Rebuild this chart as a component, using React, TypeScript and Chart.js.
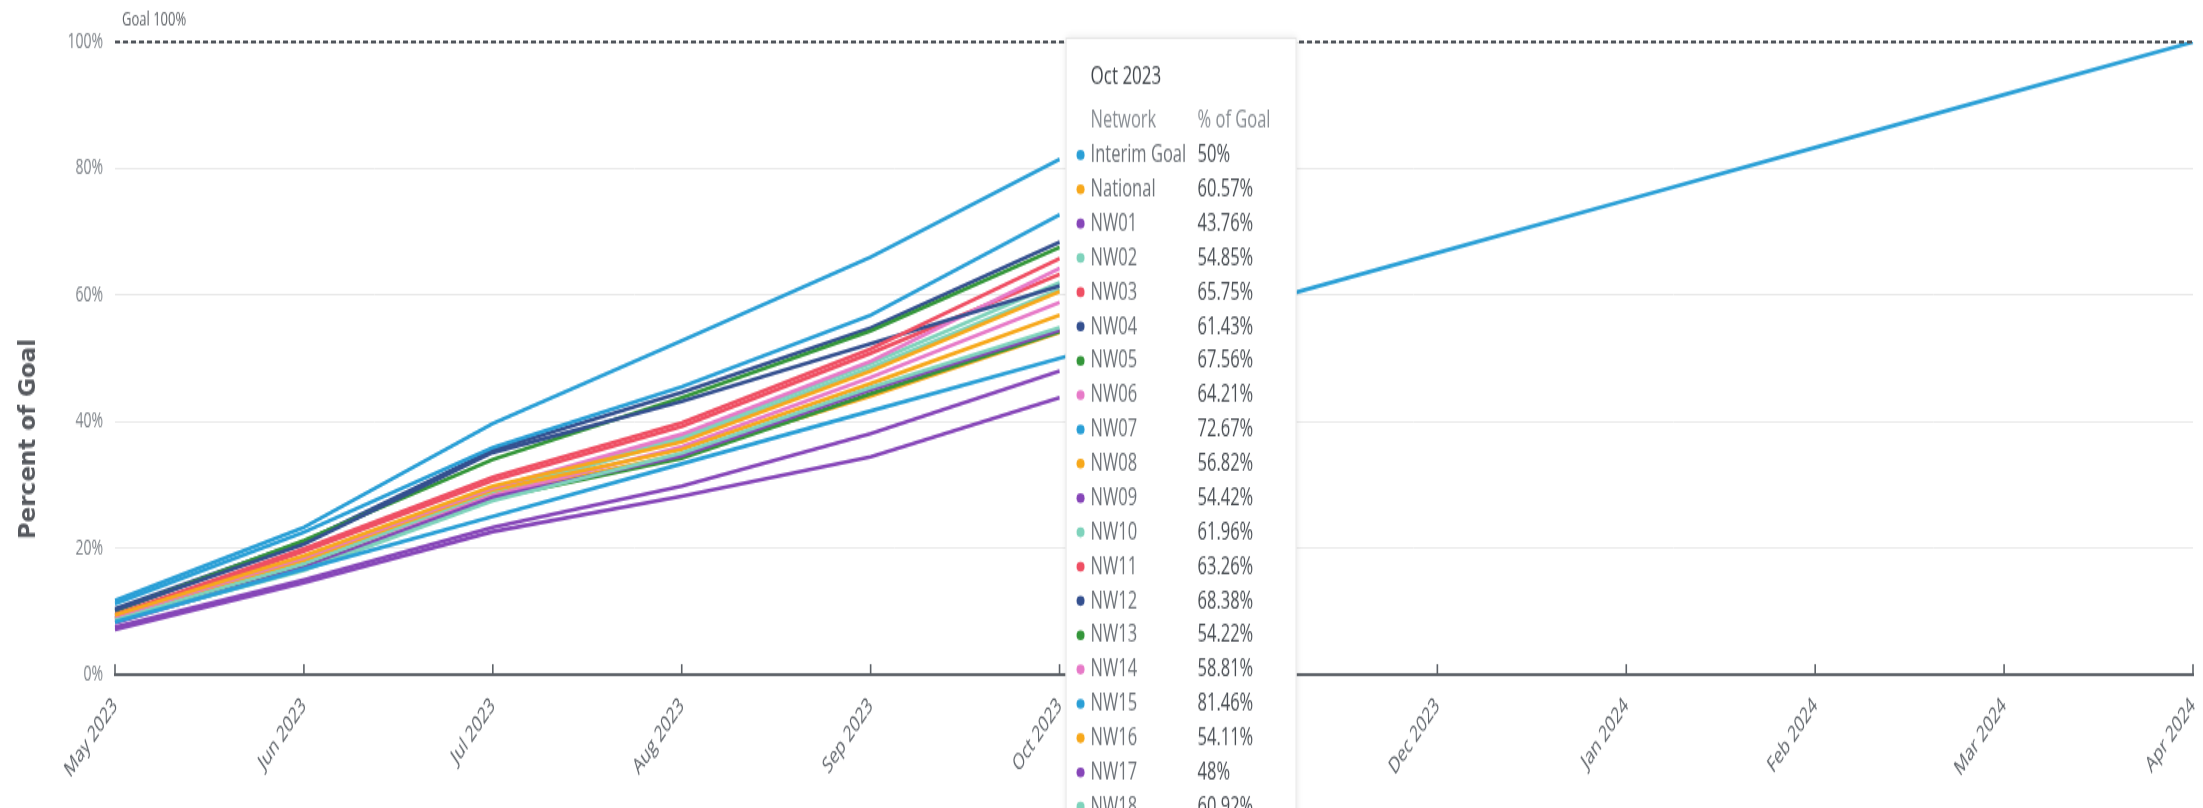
import React, { useEffect, useRef } from 'react';
import { Chart, registerables } from 'chart.js';

Chart.register(...registerables);

// ---------- data ----------
const months = [
  'May 2023', 'Jun 2023', 'Jul 2023', 'Aug 2023', 'Sep 2023', 'Oct 2023',
  'Nov 2023', 'Dec 2023', 'Jan 2024', 'Feb 2024', 'Mar 2024', 'Apr 2024',
];
const yTickValues = [0, 20, 40, 60, 80, 100];
const goalValue = 100;
const goalLabel = 'Goal 100%';
const tooltipIndex = 5; // Oct 2023

const interimGoal = [8.33, 16.67, 25, 33.33, 41.67, 50, 58.33, 66.67, 75, 83.33, 91.67, 100];
const national = [9.4, 18.8, 29.8, 36.8, 48.0, 60.57];
const nw01 = [7.1, 14.5, 22.6, 28.2, 34.4, 43.76];
const nw02 = [8.5, 16.5, 27.5, 35.0, 45.4, 54.85];
const nw03 = [9.5, 19.9, 31.2, 39.8, 51.5, 65.75];
const nw04 = [10.2, 20.6, 35.1, 43.2, 52.3, 61.43];
const nw05 = [10.0, 21.2, 34.0, 43.8, 54.3, 67.56];
const nw06 = [9.2, 18.5, 29.5, 38.0, 49.5, 64.21];
const nw07 = [11.2, 22.5, 35.9, 45.5, 56.8, 72.67];
const nw08 = [9.3, 18.2, 29.2, 35.6, 46.0, 56.82];
const nw09 = [8.2, 16.9, 28.0, 34.6, 45.0, 54.42];
const nw10 = [8.8, 17.5, 29.0, 37.6, 49.2, 61.96];
const nw11 = [9.0, 19.5, 30.7, 39.2, 50.8, 63.26];
const nw12 = [10.4, 21.0, 35.5, 44.6, 54.8, 68.38];
const nw13 = [8.9, 17.0, 27.8, 34.2, 44.4, 54.22];
const nw14 = [8.6, 17.2, 28.3, 36.0, 47.0, 58.81];
const nw15 = [11.7, 23.3, 39.7, 52.8, 66.0, 81.46];
const nw16 = [8.7, 18.0, 28.5, 34.8, 44.0, 54.11];
const nw17 = [7.5, 15.0, 23.3, 29.8, 38.1, 48];
const nw18 = [8.8, 17.8, 28.6, 37.2, 48.5, 60.92];

const seriesNames = [
  'Interim Goal', 'National', 'NW01', 'NW02', 'NW03', 'NW04', 'NW05', 'NW06', 'NW07', 'NW08',
  'NW09', 'NW10', 'NW11', 'NW12', 'NW13', 'NW14', 'NW15', 'NW16', 'NW17', 'NW18',
];
const seriesValues = [
  interimGoal, national, nw01, nw02, nw03, nw04, nw05, nw06, nw07, nw08,
  nw09, nw10, nw11, nw12, nw13, nw14, nw15, nw16, nw17, nw18,
];
const palette = ['#2a9fd6', '#f7a81b', '#8646b8', '#7fd3bc', '#ef4f63', '#34508f', '#34963a', '#e77ac8'];
const seriesColors = seriesNames.map((_, i) => palette[i % palette.length]);

// ---------- layout constants ----------
const CANVAS_W = 2203;
const CANVAS_H = 539;
const DISPLAY_H = 808;
const STRETCH = DISPLAY_H / CANVAS_H;
const FONT = '"Open Sans", "Noto Sans", sans-serif';

const overlayPlugin = {
  id: 'overlay',
  afterDatasetsDraw(chart: any) {
    const ctx: CanvasRenderingContext2D = chart.ctx;
    const { left, right, bottom } = chart.chartArea;
    const xs = chart.scales.x;
    const ys = chart.scales.y;
    ctx.save();
    // upward tick marks on x axis
    ctx.strokeStyle = '#5d6268';
    ctx.lineWidth = 1.6;
    months.forEach((_, i) => {
      const px = xs.getPixelForValue(i);
      ctx.beginPath();
      ctx.moveTo(px, bottom);
      ctx.lineTo(px, bottom - 7);
      ctx.stroke();
    });
    // goal dashed line
    const gy = ys.getPixelForValue(goalValue);
    ctx.strokeStyle = '#50555b';
    ctx.lineWidth = 1.8;
    ctx.setLineDash([5, 3]);
    ctx.beginPath();
    ctx.moveTo(left, gy);
    ctx.lineTo(right, gy);
    ctx.stroke();
    ctx.setLineDash([]);
    // goal label
    ctx.fillStyle = '#5f6368';
    ctx.font = `13px ${FONT}`;
    ctx.textAlign = 'left';
    ctx.textBaseline = 'middle';
    ctx.fillText(goalLabel, left + 7, gy - 15);
    ctx.restore();
  },
  afterDraw(chart: any) {
    const ctx: CanvasRenderingContext2D = chart.ctx;
    const xs = chart.scales.x;
    const { top } = chart.chartArea;
    ctx.save();

    // y axis title (drawn with normal proportions on screen)
    ctx.save();
    ctx.translate(29, 439 / STRETCH);
    ctx.scale(1, 1 / STRETCH);
    ctx.rotate(-Math.PI / 2);
    ctx.fillStyle = '#56595e';
    ctx.font = 'bold 23px "DejaVu Sans", sans-serif';
    ctx.textAlign = 'center';
    ctx.textBaseline = 'middle';
    ctx.fillText('Percent of Goal', 0, 0);
    ctx.restore();

    // tooltip box
    const px = xs.getPixelForValue(tooltipIndex);
    const boxX = px + 6;
    const boxW = 231;
    const boxY = top - 3;
    ctx.save();
    ctx.shadowColor = 'rgba(0,0,0,0.10)';
    ctx.shadowBlur = 6;
    ctx.fillStyle = '#ffffff';
    ctx.fillRect(boxX, boxY, boxW, CANVAS_H - boxY + 20);
    ctx.restore();
    ctx.strokeStyle = '#e6e6e6';
    ctx.lineWidth = 1;
    ctx.strokeRect(boxX + 0.5, boxY + 0.5, boxW - 1, CANVAS_H - boxY + 20);

    const textX = boxX + 25;
    const valX = boxX + 132;
    ctx.textAlign = 'left';
    ctx.textBaseline = 'middle';
    ctx.fillStyle = '#3f444a';
    ctx.font = `17px ${FONT}`;
    ctx.fillText(months[tooltipIndex], textX, 76 / STRETCH);
    ctx.fillStyle = '#888d93';
    ctx.font = `16.5px ${FONT}`;
    ctx.fillText('Network', textX, 120 / STRETCH);
    ctx.fillText('% of Goal', valX, 120 / STRETCH);

    const rowY0 = 155 / STRETCH;
    const rowDY = 34.3 / STRETCH;
    chart.data.datasets.forEach((ds: any, i: number) => {
      const ry = rowY0 + i * rowDY;
      ctx.fillStyle = ds.borderColor;
      ctx.beginPath();
      ctx.ellipse(boxX + 15, ry, 4, 3.3, 0, 0, Math.PI * 2);
      ctx.fill();
      ctx.fillStyle = '#6d7278';
      ctx.font = `16.5px ${FONT}`;
      ctx.fillText(ds.label, textX, ry);
      ctx.fillStyle = '#484d53';
      ctx.fillText(`${ds.data[tooltipIndex]}%`, valX, ry);
    });
    ctx.restore();
  },
};

export default function App() {
  const ref = useRef<HTMLCanvasElement>(null);
  useEffect(() => {
    const canvas = ref.current;
    if (!canvas) return;
    const datasets = seriesNames.map((name, i) => ({
      label: name,
      data: seriesValues[i],
      borderColor: seriesColors[i],
      backgroundColor: seriesColors[i],
      borderWidth: 2.6,
      pointRadius: 0,
      pointHoverRadius: 0,
      tension: 0,
      fill: false,
    }));
    const chart = new Chart(canvas, {
      type: 'line',
      data: { labels: months, datasets },
      plugins: [overlayPlugin],
      options: {
        responsive: false,
        animation: false,
        devicePixelRatio: 1,
        events: [],
        layout: { padding: { top: 28, right: 10, left: 0, bottom: 0 } },
        plugins: { legend: { display: false }, tooltip: { enabled: false } },
        scales: {
          x: {
            type: 'category',
            offset: false,
            grid: { display: false },
            border: { display: true, color: '#5d6268', width: 2 },
            ticks: {
              autoSkip: false,
              maxRotation: 45,
              minRotation: 45,
              padding: 4,
              color: '#5c6167',
              font: { family: FONT, size: 15 },
            },
            afterFit: (s: any) => {
              s.height = 89;
              s.paddingRight = 0;
              s.paddingLeft = 0;
            },
          },
          y: {
            min: 0,
            max: 100,
            afterBuildTicks: (s: any) => {
              s.ticks = yTickValues.map((v) => ({ value: v }));
            },
            ticks: {
              padding: 12,
              color: '#7e8389',
              font: { family: FONT, size: 14 },
              callback: (v: any) => `${v}%`,
            },
            grid: { color: '#e8e8e8', lineWidth: 1, drawTicks: false },
            border: { display: false },
            afterFit: (s: any) => {
              s.width = 115;
            },
          },
        },
      } as any,
    });
    return () => chart.destroy();
  }, []);
  return (
    <div style={{ position: 'fixed', left: 0, top: 0, width: CANVAS_W, height: DISPLAY_H, background: '#fff' }}>
      <canvas
        ref={ref}
        width={CANVAS_W}
        height={CANVAS_H}
        style={{ width: `${CANVAS_W}px`, height: `${DISPLAY_H}px`, display: 'block' }}
      />
    </div>
  );
}
